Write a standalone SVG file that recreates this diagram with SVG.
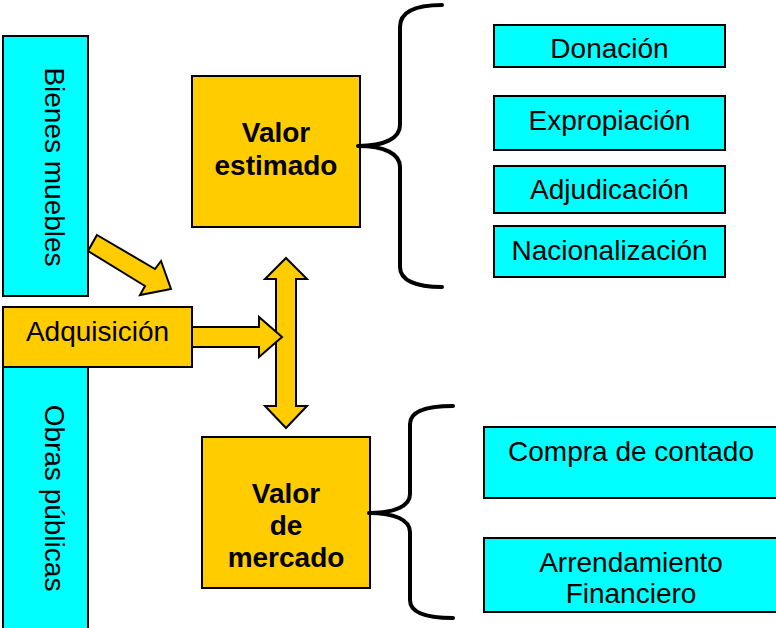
<svg xmlns="http://www.w3.org/2000/svg" width="776" height="628" viewBox="0 0 776 628">
<style>
.cy{fill:#00FFFF;stroke:#000;stroke-width:2}
.gd{fill:#FFCC00;stroke:#000;stroke-width:2}
.t{font-family:"Liberation Sans",Arial,sans-serif;font-size:28px;fill:#000;text-anchor:middle}
.b{font-weight:bold}
.br{fill:none;stroke:#000;stroke-width:4;stroke-linecap:round;stroke-linejoin:round}
</style>
<rect width="776" height="628" fill="#fff"/>
<g id="bienes"><rect class="cy" x="3" y="36" width="85" height="260"/><text class="t" transform="translate(45,167) rotate(90)">Bienes muebles</text></g>
<g id="obras"><rect class="cy" x="3" y="367" width="85" height="264"/><text class="t" transform="translate(45,498) rotate(90)">Obras públicas</text></g>
<g id="adquisicion"><rect class="gd" x="3" y="307" width="189" height="60"/><text class="t" x="97.5" y="341">Adquisición</text></g>
<g id="valor-estimado"><rect class="gd" x="192" y="76" width="168" height="151"/><text class="t b" x="276" y="142">Valor</text><text class="t b" x="276" y="175">estimado</text></g>
<g id="valor-mercado"><rect class="gd" x="202" y="437" width="168" height="151"/><text class="t b" x="286" y="503">Valor</text><text class="t b" x="286" y="535">de</text><text class="t b" x="286" y="567">mercado</text></g>
<g id="donacion"><rect class="cy" x="494" y="25" width="231" height="42"/><text class="t" x="609.5" y="58">Donación</text></g>
<g id="expropiacion"><rect class="cy" x="494" y="96" width="231" height="54"/><text class="t" x="609.5" y="130">Expropiación</text></g>
<g id="adjudicacion"><rect class="cy" x="494" y="166" width="231" height="47"/><text class="t" x="609.5" y="199">Adjudicación</text></g>
<g id="nacionalizacion"><rect class="cy" x="494" y="226" width="231" height="51"/><text class="t" x="609.5" y="260">Nacionalización</text></g>
<g id="compra"><rect class="cy" x="484" y="427" width="296" height="71"/><text class="t" x="631" y="461">Compra de contado</text></g>
<g id="arrendamiento"><rect class="cy" x="484" y="538" width="296" height="74"/><text class="t" x="631" y="572">Arrendamiento</text><text class="t" x="631" y="603">Financiero</text></g>
<g id="connectors">
<polygon class="gd" points="97,235 155,269 161,261 171,289 140,295 145,286 88,251"/>
<polygon class="gd" points="286,258 307,279 296,279 296,406 307,406 286,428 265,406 276,406 276,279 265,279"/>
<polygon class="gd" points="192,327 259,327 259,317 282,337 259,357 259,347 192,347"/>
<path class="br" d="M442,5 C415,5 400,12 400,27 L400,125 C400,138 385,146 358,146 C385,146 400,154 400,167 L400,267 C400,280 415,287 442,287"/>
<path class="br" d="M453,406 C425,406 410,412 410,424 L410,494 C410,506 395,513 369,513 C395,513 410,520 410,532 L410,600 C410,612 425,618 453,618"/>
</g>
</svg>
